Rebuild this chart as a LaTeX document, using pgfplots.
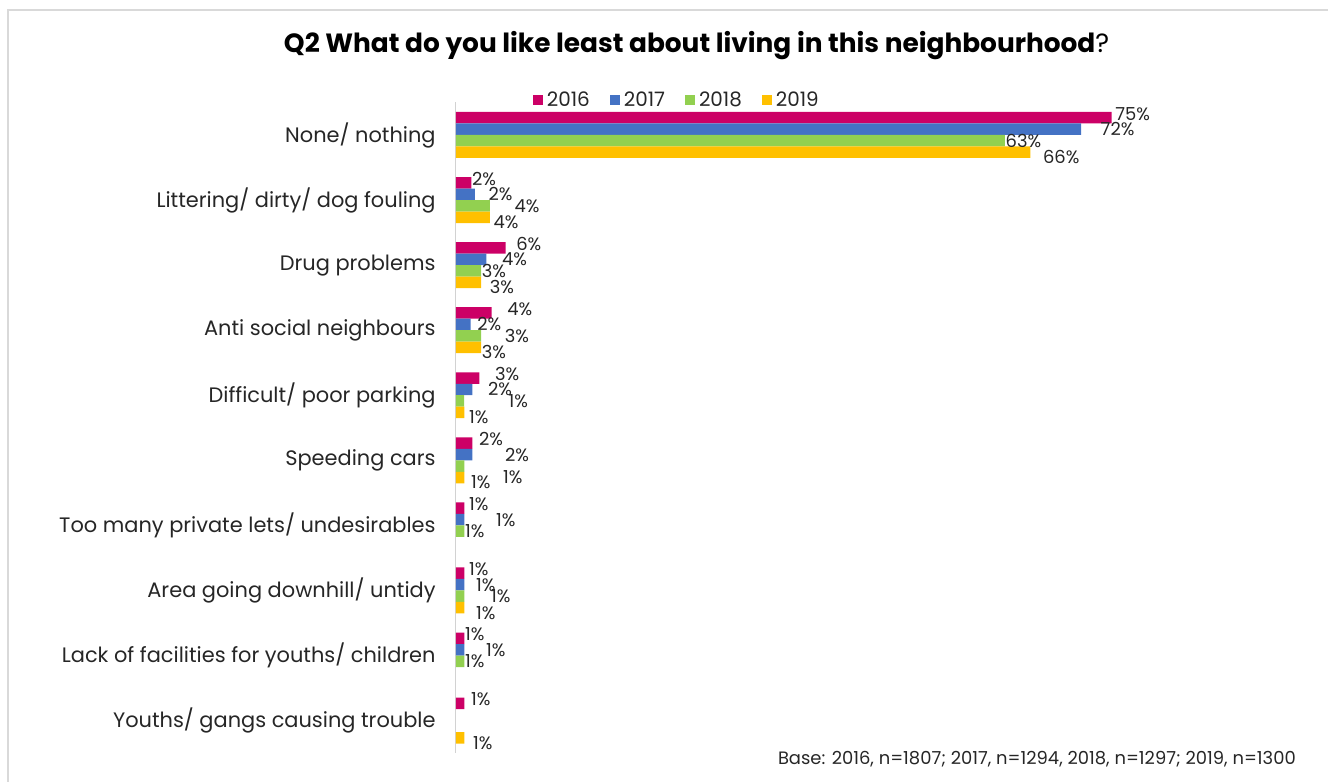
\documentclass[border=0pt]{standalone}
\usepackage{pgfplots}
\pgfplotsset{compat=1.18}
\usepackage{fontspec}
\setmainfont{Poppins}
\definecolor{c16}{HTML}{CC0066}
\definecolor{c17}{HTML}{4472C4}
\definecolor{c18}{HTML}{92D050}
\definecolor{c19}{HTML}{FFC000}
\definecolor{txt}{HTML}{262626}
\newcommand{\s}[1]{\hspace*{#1bp}}
\newcommand{\dn}[2]{\raisebox{-#1bp}[0pt][0pt]{#2}}
\begin{document}
\begin{tikzpicture}[x=1bp,y=1bp]
\path (0,0) rectangle (1329,-782);
\draw[color=gray!30, line width=1.5bp] (8,-782) -- (8,-10) -- (1329,-10);
\node[font=\fontsize{26.5}{29}\selectfont\bfseries, text=black] at (697,-46) {Q2 What do you like least about living in this neighbourhood{\mdseries ?}};
\begin{axis}[
  at={(456bp,-102.5bp)}, anchor=north west,
  scale only axis, width=700bp, height=651bp,
  xbar, xmin=0, xmax=80,
  ymin=-0.5, ymax=9.5, y dir=reverse,
  hide x axis,
  axis y line=left,
  y axis line style={draw=gray!35, line width=1bp, -},
  ytick={0,...,9},
  yticklabels={None/ nothing, Littering/ dirty/ dog fouling, Drug problems, Anti social neighbours, Difficult/ poor parking, Speeding cars, Too many private lets/ undesirables, Area going downhill/ untidy, Lack of facilities for youths/ children, Youths/ gangs causing trouble},
  major tick length=0pt,
  ytick style={draw=none},
  yticklabel style={font=\fontsize{21}{23}\selectfont, text=txt, inner sep=0pt, xshift=-20bp},
  bar width=11.5bp,
  point meta=explicit symbolic,
  nodes near coords,
  nodes near coords style={font=\fontsize{18}{20}\selectfont, text=txt, anchor=west, inner sep=0.5bp},
  legend columns=4,
  legend style={at={(axis description cs:0.316,1.004)}, anchor=center, draw=none, fill=none,
    font=\fontsize{20}{22}\selectfont, text=txt,
    /tikz/every odd column/.append style={column sep=2bp},
    /tikz/every even column/.append style={column sep=18bp}},
  legend image code/.code={\fill[#1] (0bp,-5bp) rectangle (10bp,5bp);},
  clip=false,
]
\addplot[fill=c16, draw=none, bar shift=17.25bp, nodes near coords style={yshift=4bp}] coordinates {
 (75.0,0) [\s{3}75\%] (1.8,1) [2\%] (5.7,2) [\s{10}6\%] (4.1,3) [\s{15}4\%] (2.7,4) [\s{15}3\%]
 (1.9,5) [\s{6}2\%] (1.0,6) [\s{4}1\%] (1.0,7) [\s{4}1\%] (1.0,8) [1\%] (1.0,9) [\s{6}1\%]};
\addplot[fill=c17, draw=none, bar shift=5.75bp] coordinates {
 (71.5,0) [\s{19}72\%] (2.2,1) [\s{13}2\%] (3.5,2) [\s{15}4\%] (1.7,3) [\s{6}2\%] (1.9,4) [\s{15}2\%]
 (1.9,5) [\s{32}2\%] (1.0,6) [\s{31}1\%] (1.0,7) [\s{11}1\%] (1.0,8) [\s{21}1\%]};
\addplot[fill=c18, draw=none, bar shift=-5.75bp] coordinates {
 (62.8,0) [63\%] (3.9,1) [\s{24}4\%] (2.9,2) [3\%] (2.9,3) [\s{23}3\%] (0.95,4) [\s{44}1\%]
 (1.0,5) [\s{38}\dn{17}{1\%}] (1.0,6) [1\%] (1.0,7) [\s{26}\dn{6}{1\%}] (1.0,8) [1\%]};
\addplot[fill=c19, draw=none, bar shift=-17.25bp, nodes near coords style={yshift=-5bp}] coordinates {
 (65.7,0) [\s{12}66\%] (3.9,1) [\s{3}4\%] (2.9,2) [\s{8}3\%] (2.9,3) [3\%] (1.0,4) [\s{4}1\%]
 (1.0,5) [\s{6}1\%] (1.0,7) [\s{11}1\%] (1.0,9) [\s{8}1\%]};
\legend{2016,2017,2018,2019}
\end{axis}
\node[font=\fontsize{18}{20}\selectfont, text=txt, anchor=east] at (1300,-760) {Base: 2016, n=1807; 2017, n=1294, 2018, n=1297; 2019, n=1300};
\end{tikzpicture}
\end{document}
